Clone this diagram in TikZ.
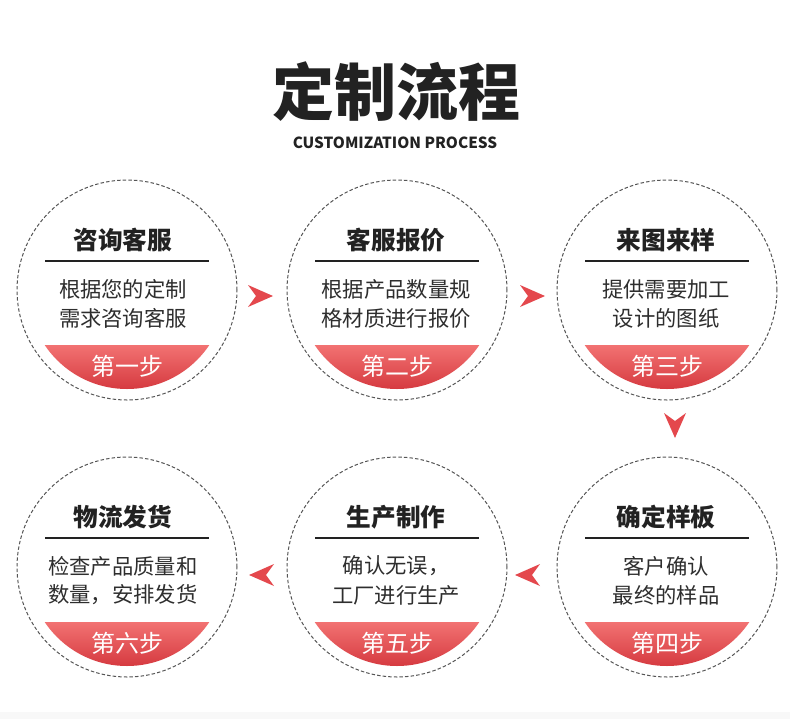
\documentclass[tikz,border=0pt]{standalone}
\usepackage{fontspec}
\newfontfamily\cjk{Noto Sans CJK SC}
\newfontfamily\cjkblack{Noto Sans CJK SC Black}
\usetikzlibrary{calc}
\definecolor{redA}{HTML}{F27272}
\definecolor{redB}{HTML}{D5393F}
\definecolor{arrowred}{HTML}{E4484D}
\definecolor{txt}{HTML}{222222}
\definecolor{bodytxt}{HTML}{2E2E2E}
\definecolor{ringgray}{HTML}{555555}
\definecolor{band}{HTML}{F8F8F8}
\tikzset{
  ring/.style={circle, draw=ringgray, line width=0.75pt, dash pattern=on 2.6pt off 1.6pt, minimum size=165pt, inner sep=0pt},
  ctitle/.style={font=\cjk\bfseries\fontsize{18.5pt}{20pt}\selectfont, text=txt, inner sep=0pt},
  cbody/.style={font=\cjk\fontsize{16pt}{18pt}\selectfont, text=bodytxt, inner sep=0pt},
  cstep/.style={font=\cjk\fontsize{18pt}{20pt}\selectfont, text=white, inner sep=0pt},
  dart/.pic={\fill[arrowred] (12,0) -- (-13,-11) -- (-5,0) -- (-13,11) -- cycle;}
}
\begin{document}
\begin{tikzpicture}[x=0.75pt,y=-0.75pt]
\fill[white] (0,0) rectangle (790,719);
\fill[band] (0,712) rectangle (790,719);
\useasboundingbox (0,0) rectangle (790,719);
\node[font=\cjkblack\fontsize{46.5pt}{50pt}\selectfont, text=txt, inner sep=0pt] (head) at (396,92) {定制流程};
\node[font=\cjk\bfseries\fontsize{11.5pt}{13pt}\selectfont, text=txt, inner sep=0pt] (sub) at (395,143) {CUSTOMIZATION PROCESS};
\foreach \n/\x/\y/\dx/\t/\la/\lb/\s in {
  1/127/290/-4/咨询客服/根据您的定制/需求咨询客服/第一步,
  2/397/290/-1/客服报价/根据产品数量规/格材质进行报价/第二步,
  3/667/290/-1/来图来样/提供需要加工/设计的图纸/第三步,
  4/667/567/-1/确定样板/客户确认/最终的样品/第四步,
  5/397/567/-1/生产制作/确认无误，/工厂进行生产/第五步,
  6/127/567/-4/物流发货/检查产品质量和/数量，安排发货/第六步}{
  \node[ring] (c\n) at (\x,\y) {};
  \begin{scope}
    \clip (c\n.center) circle[radius=99];
    \shade[top color=redA, bottom color=redB] ($(c\n.center)+(-100,55)$) rectangle ($(c\n.center)+(100,100)$);
  \end{scope}
  \node[ctitle] (t\n) at ($(c\n.center)+(\dx,-50)$) {\t};
  \draw[line width=0.8pt, txt] ($(c\n.center)+(-82,-29)$) -- ($(c\n.center)+(82,-29)$);
  \node[cbody] (a\n) at ($(c\n.center)+(\dx,-1)$) {\la};
  \node[cbody] (b\n) at ($(c\n.center)+(\dx,28)$) {\lb};
  \node[cstep] (s\n) at ($(c\n.center)+(0,76)$) {\s};
}
\pic at (261,296) {dart};
\pic at (533,296) {dart};
\pic[rotate=-90] at (675,426) {dart};
\pic[rotate=180] at (527,575) {dart};
\pic[rotate=180] at (261,575) {dart};
\end{tikzpicture}
\end{document}
